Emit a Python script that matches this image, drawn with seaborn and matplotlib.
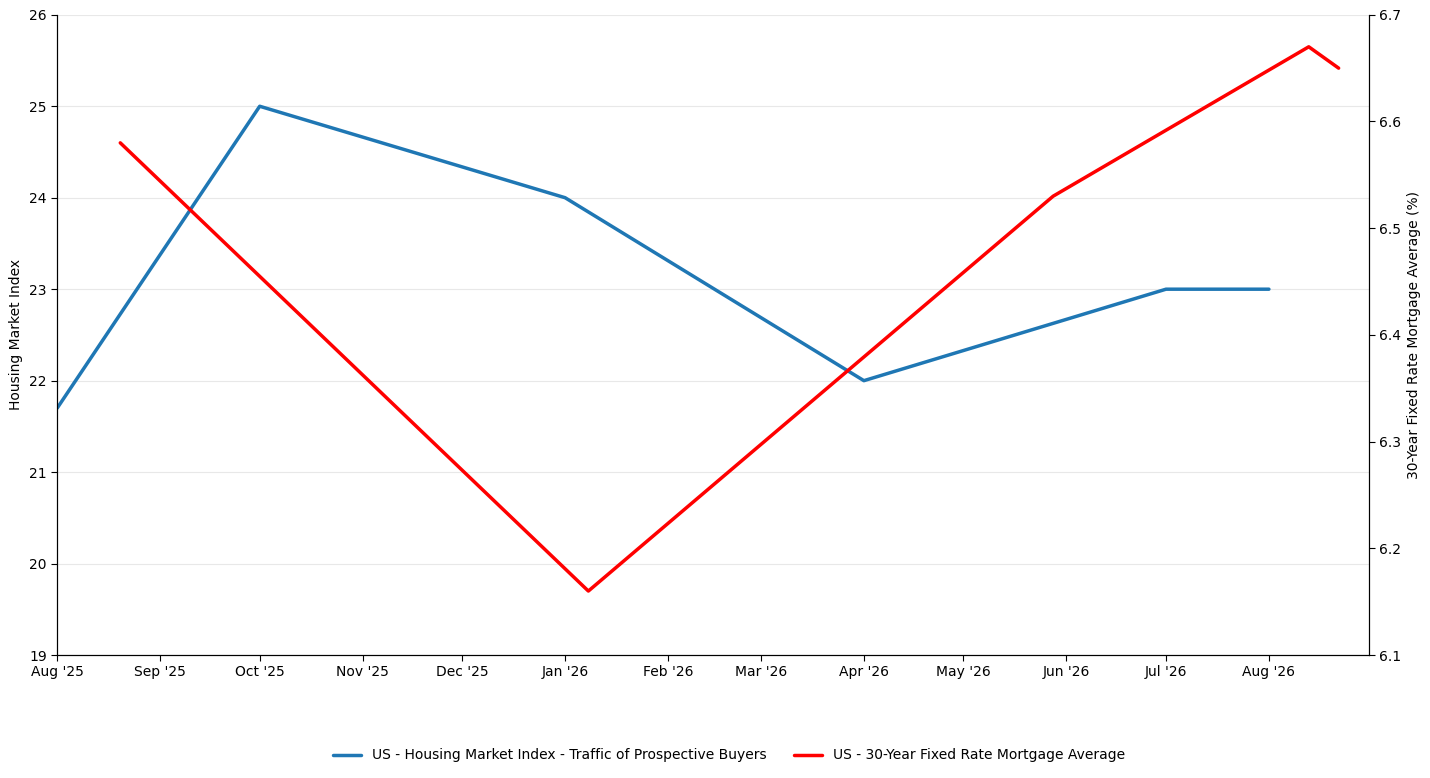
import matplotlib
matplotlib.use("Agg")
import matplotlib.pyplot as plt
import matplotlib.dates as mdates
import pandas as pd
import seaborn as sns

sns.set_style("white")
plt.rcParams['font.family'] = ['DejaVu Sans']
plt.rcParams.update({
    'text.color': 'black',
    'axes.labelcolor': 'black',
    'xtick.color': 'black',
    'ytick.color': 'black',
})

# Housing Market Index - traffic of prospective buyers (monthly readings)
hmi_dates = ["2025-08-01", "2025-10-01", "2026-01-01", "2026-04-01", "2026-07-01", "2026-08-01"]
hmi_values = [21.7, 25.0, 24.0, 22.0, 23.0, 23.0]

# 30-year fixed rate mortgage average (%)
rate_dates = ["2025-08-20", "2026-01-08", "2026-05-28", "2026-08-13", "2026-08-22"]
rate_values = [6.58, 6.16, 6.53, 6.67, 6.65]

hmi_label = "US - Housing Market Index - Traffic of Prospective Buyers"
rate_label = "US - 30-Year Fixed Rate Mortgage Average"

hmi = pd.DataFrame({"date": pd.to_datetime(hmi_dates), "value": hmi_values})
rate = pd.DataFrame({"date": pd.to_datetime(rate_dates), "value": rate_values})

fig, ax = plt.subplots(figsize=(14.3, 7.78), dpi=100)
fig.subplots_adjust(left=0.04, right=0.957, top=0.981, bottom=0.158)

sns.lineplot(data=hmi, x="date", y="value", ax=ax, color="#1f77b4", lw=2.5, label=hmi_label, legend=False)
ax2 = ax.twinx()
sns.lineplot(data=rate, x="date", y="value", ax=ax2, color="red", lw=2.5, label=rate_label, legend=False)

ax.set_ylim(19, 26)
ax2.set_ylim(6.1, 6.7)
ax.set_xlim(pd.Timestamp("2025-08-01"), pd.Timestamp("2026-08-31"))

ax.xaxis.set_major_locator(mdates.MonthLocator())
ax.xaxis.set_major_formatter(mdates.DateFormatter("%b '%y"))

ax.set_ylabel("Housing Market Index")
ax2.set_ylabel("30-Year Fixed Rate Mortgage Average (%)")
ax.set_xlabel("")
ax2.set_xlabel("")

ax.grid(axis="y", color="#e8e8e8", lw=0.8)
ax.set_axisbelow(True)
ax.tick_params(axis="both", which="major", length=4, direction="out", bottom=True, left=True)
ax2.tick_params(axis="y", length=4, direction="out", right=True)

ax.spines['top'].set_visible(False)
ax2.spines['top'].set_visible(False)
for a in (ax, ax2):
    for s in ('left', 'right', 'bottom'):
        a.spines[s].set_color("black")

h1, l1 = ax.get_legend_handles_labels()
h2, l2 = ax2.get_legend_handles_labels()
fig.legend(h1 + h2, l1 + l2, loc="lower center", ncol=2, frameon=False,
           bbox_to_anchor=(0.51, 0.004))

plt.savefig("out.png", dpi=100)
